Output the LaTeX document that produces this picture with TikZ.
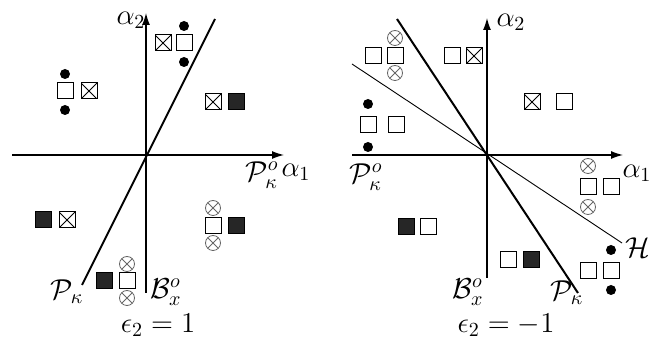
\documentclass[tikz,border=0pt]{standalone}
\usepackage{amsmath}
\usetikzlibrary{arrows, arrows.meta, positioning}

\begin{document}
\begin{tikzpicture}[
        x=0.5pt, y=-0.5pt,
        lbl/.style={font=\Large, inner sep=0pt},
        sq/.style={rectangle, draw, line width=0.5pt, minimum size=8pt, inner sep=0pt},
        osq/.style={sq, fill=white},
        fsq/.style={sq, fill=black!85},
        xsq/.style={sq, fill=white, path picture={\draw[line width=0.4pt] (path picture bounding box.south west) -- (path picture bounding box.north east) (path picture bounding box.north west) -- (path picture bounding box.south east);}},
        otim/.style={circle, draw=black!60, line width=0.4pt, minimum size=7.5pt, inner sep=0pt, path picture={\draw[black!60, line width=0.4pt] (path picture bounding box.south west) -- (path picture bounding box.north east) (path picture bounding box.north west) -- (path picture bounding box.south east);}},
        dot/.style={circle, fill=black, minimum size=5pt, inner sep=0pt},
        axis/.style={line width=0.6pt, -{Latex[length=6pt, width=4pt]}},
        half/.style={line width=1.4pt, black!55},
        pline/.style={line width=1pt},
        hline/.style={line width=0.45pt}
    ]
    \useasboundingbox (0,0) rectangle (649,341);

    % left panel, epsilon_2 = 1
    \coordinate (O1) at (146,155);
    \coordinate (x1a) at (12,155);
    \coordinate (x1b) at (284,155);
    \coordinate (y1a) at (146,293);
    \coordinate (y1b) at (146,13);
    \coordinate (p1a) at (82,285);
    \coordinate (p1b) at (215,19);
    \draw[half] (33,155) coordinate (h1a) -- (260,155) coordinate (h1b);
    \draw[half] (146,42) coordinate (v1a) -- (146,291) coordinate (v1b);
    \draw[axis] (x1a) -- (x1b);
    \draw[axis] (y1a) -- (y1b);
    \draw[pline] (p1a) -- (p1b);

    \node[lbl] (a2L) at (131,20) {$\alpha_2$};
    \node[lbl] (a1L) at (296,172) {$\alpha_1$};
    \node[lbl] (PoL) at (262,175) {$\mathcal{P}^o_\kappa$};
    \node[lbl] (PkL) at (67,292) {$\mathcal{P}_\kappa$};
    \node[lbl] (BxL) at (166,292) {$\mathcal{B}^o_x$};
    \node[lbl] (eps1) at (158,325) {$\epsilon_2 = 1$};

    \node[xsq] (t1) at (163,43) {};
    \node[osq] (t2) at (184,43) {};
    \node[dot] (t3) at (184,26) {};
    \node[dot] (t4) at (184,62) {};

    \node[osq] (ul1) at (65,91) {};
    \node[xsq] (ul2) at (89,91) {};
    \node[dot] (ul3) at (65,74) {};
    \node[dot] (ul4) at (65,110) {};

    \node[xsq] (ur1) at (213,102) {};
    \node[fsq] (ur2) at (236,102) {};

    \node[fsq] (ll1) at (43,220) {};
    \node[xsq] (ll2) at (67,220) {};

    \node[otim] (lr1) at (213,208) {};
    \node[osq] (lr2) at (213,226) {};
    \node[otim] (lr3) at (213,243) {};
    \node[fsq] (lr4) at (236,226) {};

    \node[fsq] (b1) at (104,281) {};
    \node[osq] (b2) at (127,281) {};
    \node[otim] (b3) at (127,264) {};
    \node[otim] (b4) at (127,298) {};

    % right panel, epsilon_2 = -1
    \coordinate (O2) at (487,155);
    \coordinate (x2a) at (352,155);
    \coordinate (x2b) at (623,155);
    \coordinate (y2a) at (487,278);
    \coordinate (y2b) at (487,18);
    \coordinate (p2a) at (397,19);
    \coordinate (p2b) at (578,293);
    \coordinate (h2a) at (352,64);
    \coordinate (h2b) at (622,243);
    \draw[half] (375,155) -- (600,155);
    \draw[half] (487,42) -- (487,277);
    \draw[axis] (x2a) -- (x2b);
    \draw[axis] (y2a) -- (y2b);
    \draw[pline] (p2a) -- (p2b);
    \draw[hline] (h2a) -- (h2b);

    \node[lbl] (a2R) at (511,22) {$\alpha_2$};
    \node[lbl] (a1R) at (637,173) {$\alpha_1$};
    \node[lbl] (PoR) at (366,177) {$\mathcal{P}^o_\kappa$};
    \node[lbl] (HR) at (638,248) {$\mathcal{H}$};
    \node[lbl] (PkR) at (567,293) {$\mathcal{P}_\kappa$};
    \node[lbl] (BxR) at (468,292) {$\mathcal{B}^o_x$};
    \node[lbl] (eps2) at (506,325) {$\epsilon_2 = -1$};

    \node[osq] (r1) at (373,56) {};
    \node[osq] (r2) at (395,56) {};
    \node[otim] (r3) at (395,38) {};
    \node[otim] (r4) at (395,73) {};

    \node[osq] (r5) at (452,56) {};
    \node[xsq] (r6) at (474,56) {};

    \node[osq] (r7) at (368,125) {};
    \node[osq] (r8) at (396,125) {};
    \node[dot] (r9) at (368,104) {};
    \node[dot] (r10) at (368,147) {};

    \node[xsq] (r11) at (532,102) {};
    \node[osq] (r12) at (564,102) {};

    \node[otim] (r13) at (588,166) {};
    \node[osq] (r14) at (588,187) {};
    \node[otim] (r15) at (588,207) {};
    \node[osq] (r16) at (611,187) {};

    \node[fsq] (r17) at (406,227) {};
    \node[osq] (r18) at (428,227) {};

    \node[osq] (r19) at (508,260) {};
    \node[fsq] (r20) at (531,260) {};

    \node[osq] (r21) at (588,271) {};
    \node[osq] (r22) at (611,271) {};
    \node[dot] (r23) at (611,250) {};
    \node[dot] (r24) at (611,290) {};
\end{tikzpicture}
\end{document}
